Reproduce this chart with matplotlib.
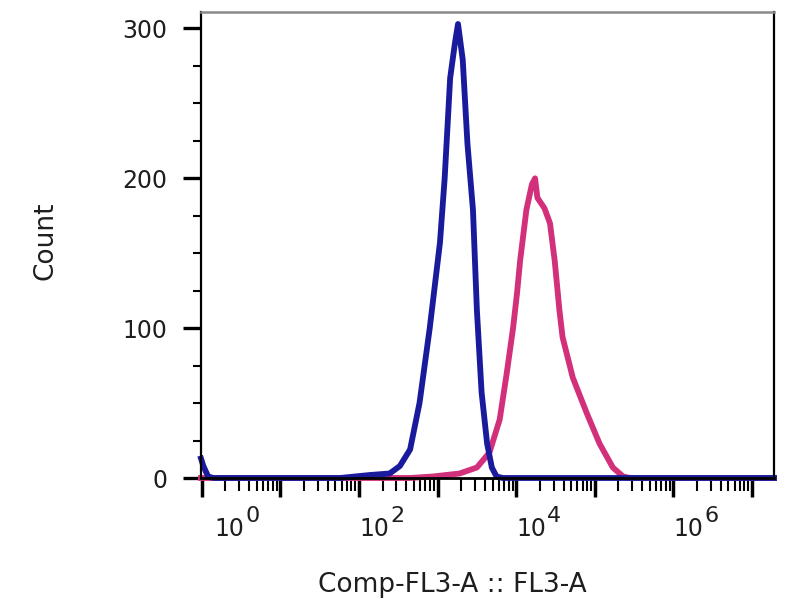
import numpy as np
import matplotlib
matplotlib.use("Agg")
from matplotlib import pyplot as plt
from matplotlib import transforms
from matplotlib.ticker import FixedLocator, FuncFormatter, MultipleLocator

# histogram outlines (x as log10 of FL3-A, y = count)
blue_logx = [-0.01, 0.02, 0.08, 0.15, 1.76, 1.95, 2.14, 2.39, 2.52, 2.65, 2.77, 2.90,
             3.03, 3.09, 3.16, 3.22, 3.26, 3.32, 3.38, 3.45, 3.50, 3.56, 3.63, 3.69,
             3.75, 3.83, 7.28]
blue_count = [13, 8, 1, 0, 0, 1, 2, 3, 8, 19, 50, 100,
              157, 200, 267, 290, 303, 279, 223, 179, 112, 57, 23, 7,
              1, 0, 0]

pink_logx = [-0.01, 2.65, 2.94, 3.28, 3.50, 3.66, 3.79, 3.88, 3.96, 4.01, 4.05, 4.13,
             4.20, 4.24, 4.27, 4.36, 4.43, 4.49, 4.55, 4.59, 4.72, 4.90, 5.06, 5.23,
             5.36, 5.45, 7.28]
pink_count = [0, 0, 1, 3, 7, 17, 39, 70, 100, 123, 145, 179,
              196, 200, 187, 180, 170, 145, 112, 94, 67, 43, 23, 7,
              1, 0, 0]

decades = [0, 1, 2, 3, 4, 5, 6, 7]
labeled = [0, 2, 4, 6]
y_ticks = [0, 100, 200, 300]

blue = "#1a1a9c"
pink = "#d2307a"
txt = "#1e1e1e"

fig = plt.figure(figsize=(8, 6), dpi=100)
ax = fig.add_axes([201/800, 1-478/600, 573/800, 466/600])

ax.plot(10.0**np.array(pink_logx), pink_count, color=pink, lw=4.2, clip_on=False, solid_joinstyle="round")
ax.plot(10.0**np.array(blue_logx), blue_count, color=blue, lw=4.2, clip_on=False, solid_joinstyle="round")

ax.set_xscale("log")
ax.set_xlim(10**-0.01, 10**7.28)
ax.set_ylim(0, 311)

ax.xaxis.set_major_locator(FixedLocator([10.0**d for d in decades]))
ax.xaxis.set_minor_locator(FixedLocator([m*10.0**d for d in decades[:-1] for m in range(2, 10)]))
ax.xaxis.set_major_formatter(FuncFormatter(lambda v, p: "10" if round(np.log10(v)) in labeled else ""))
ax.xaxis.set_minor_formatter(FuncFormatter(lambda v, p: ""))

ax.yaxis.set_major_locator(FixedLocator(y_ticks))
ax.yaxis.set_minor_locator(MultipleLocator(25))

ax.tick_params(axis="x", which="major", length=14, width=2.5, pad=14, labelsize=17, labelcolor=txt)
ax.tick_params(axis="x", which="minor", length=9, width=1.5)
ax.tick_params(axis="y", which="major", length=13, width=2.4, pad=11, labelsize=17, labelcolor=txt)
ax.tick_params(axis="y", which="minor", length=6, width=1.5)

# FlowJo puts "10" starting at the tick, the first one a bit further in
fig.canvas.draw()
for lab in ax.get_xticklabels():
    lab.set_horizontalalignment("left")
first = ax.get_xticklabels()[0]
first.set_transform(first.get_transform() + transforms.ScaledTranslation(13/100, 0, fig.dpi_scale_trans))

for d in labeled:
    dx = 31 + (13 if d == 0 else 0)
    ax.annotate(str(d), xy=(10.0**d, 0), xycoords=("data", "axes fraction"),
                xytext=(dx*0.72, -28*0.72), textcoords="offset points",
                ha="left", va="top", fontsize=16, color=txt)

for side in ["left", "right"]:
    ax.spines[side].set_linewidth(1.6)
ax.spines["bottom"].set_linewidth(2)
ax.spines["top"].set_linewidth(1.8)
ax.spines["top"].set_color("#8a8a8a")

fig.text(45/800, 1-241/600, "Count", rotation=90, ha="center", va="center", fontsize=19, color=txt)
fig.text(452/800, 2/600, "Comp-FL3-A :: FL3-A", ha="center", va="bottom", fontsize=19, color=txt)

plt.savefig("out.png", dpi=100)
